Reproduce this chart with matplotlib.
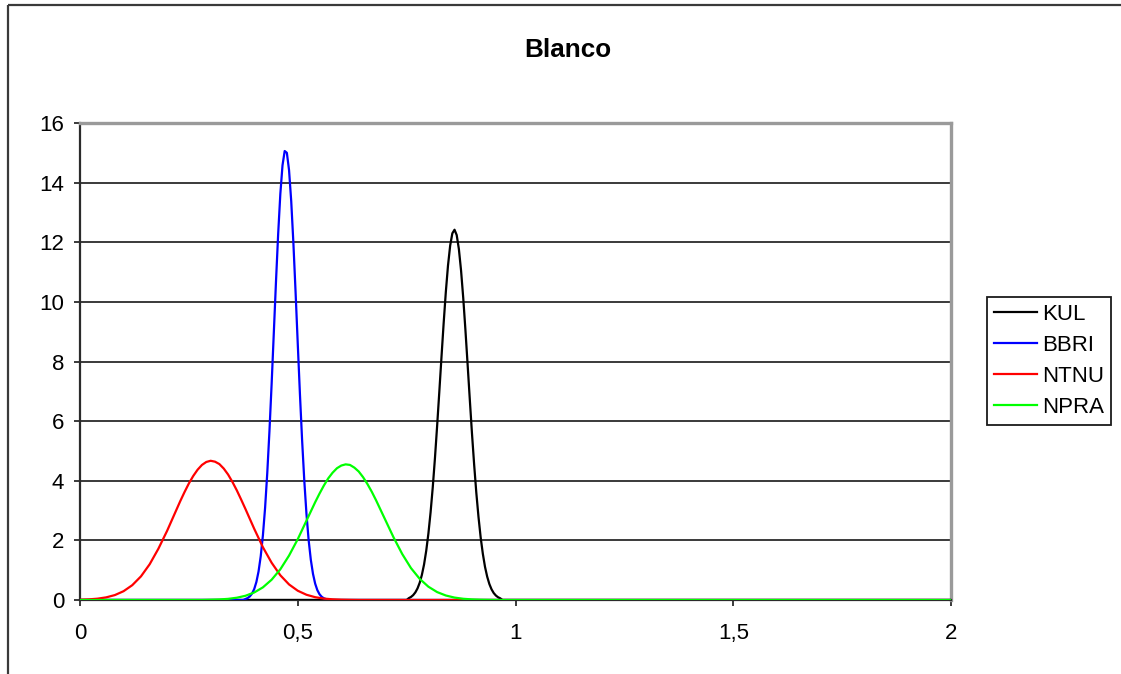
import matplotlib
matplotlib.use("Agg")
import matplotlib.pyplot as plt
from matplotlib.lines import Line2D

plt.rcParams['font.family'] = ['Liberation Sans', 'DejaVu Sans']

# ---- data -------------------------------------------------------------
title = "Blanco"
series_names = ["KUL", "BBRI", "NTNU", "NPRA"]
series_colors = ["#000000", "#0000ff", "#ff0000", "#00ff00"]

kul_x = [0.0, 0.750, 0.755, 0.760, 0.765, 0.770, 0.775, 0.780, 0.785, 0.790, 0.795,
         0.800, 0.805, 0.810, 0.815, 0.820, 0.825, 0.830, 0.835, 0.840, 0.845,
         0.850, 0.855, 0.860, 0.865, 0.870, 0.875, 0.880, 0.885, 0.890, 0.895,
         0.900, 0.905, 0.910, 0.915, 0.920, 0.925, 0.930, 0.935, 0.940, 0.945,
         0.950, 0.955, 0.960, 0.965, 0.970, 2.0]
kul_y = [0.0, 0.0, 0.062, 0.102, 0.163, 0.255, 0.389, 0.578, 0.841, 1.19, 1.65,
         2.23, 2.94, 3.78, 4.75, 5.83, 6.97, 8.14, 9.28, 10.33, 11.22,
         11.89, 12.30, 12.42, 12.24, 11.77, 11.05, 10.13, 9.06, 7.91, 6.74,
         5.60, 4.55, 3.60, 2.79, 2.10, 1.55, 1.11, 0.782, 0.535, 0.358,
         0.233, 0.149, 0.092, 0.056, 0.0, 0.0]

bbri_x = [0.0, 0.375, 0.380, 0.385, 0.390, 0.395, 0.400, 0.405, 0.410, 0.415, 0.420,
          0.425, 0.430, 0.435, 0.440, 0.445, 0.450, 0.455, 0.460, 0.465, 0.470,
          0.475, 0.480, 0.485, 0.490, 0.495, 0.500, 0.505, 0.510, 0.515, 0.520,
          0.525, 0.530, 0.535, 0.540, 0.545, 0.550, 0.555, 0.560, 0.565, 0.570, 2.0]
bbri_y = [0.0, 0.0, 0.035, 0.066, 0.121, 0.215, 0.366, 0.603, 0.959, 1.47, 2.17,
          3.09, 4.26, 5.66, 7.24, 8.95, 10.67, 12.27, 13.62, 14.58, 15.06,
          15.00, 14.42, 13.38, 11.97, 10.33, 8.60, 6.91, 5.36, 4.01, 2.89,
          2.01, 1.35, 0.876, 0.548, 0.330, 0.192, 0.108, 0.058, 0.030, 0.0, 0.0]

ntnu_x = [0.00, 0.02, 0.04, 0.06, 0.08, 0.10, 0.12, 0.14, 0.16, 0.18,
          0.20, 0.21, 0.22, 0.23, 0.24, 0.25, 0.26, 0.27, 0.28, 0.29,
          0.30, 0.31, 0.32, 0.33, 0.34, 0.35, 0.36, 0.37, 0.38, 0.39,
          0.40, 0.42, 0.44, 0.46, 0.48, 0.50, 0.52, 0.54, 0.56, 0.58,
          0.60, 0.62, 0.64, 2.0]
ntnu_y = [0.010, 0.021, 0.044, 0.088, 0.165, 0.295, 0.497, 0.793, 1.20, 1.72,
          2.32, 2.65, 2.98, 3.31, 3.62, 3.91, 4.16, 4.37, 4.53, 4.63,
          4.67, 4.64, 4.56, 4.41, 4.21, 3.96, 3.68, 3.37, 3.05, 2.72,
          2.39, 1.77, 1.25, 0.829, 0.522, 0.311, 0.176, 0.094, 0.047, 0.023,
          0.010, 0.004, 0.0, 0.0]

npra_x = [0.0, 0.28, 0.30, 0.32, 0.34, 0.36, 0.38, 0.40, 0.42, 0.44, 0.46,
          0.48, 0.50, 0.52, 0.53, 0.54, 0.55, 0.56, 0.57, 0.58, 0.59,
          0.60, 0.61, 0.62, 0.63, 0.64, 0.65, 0.66, 0.67, 0.68, 0.69,
          0.70, 0.72, 0.74, 0.76, 0.78, 0.80, 0.82, 0.84, 0.86, 0.88,
          0.90, 0.92, 0.94, 0.96, 2.0]
npra_y = [0.0, 0.0, 0.0085, 0.0185, 0.038, 0.076, 0.142, 0.252, 0.424, 0.680, 1.03,
          1.49, 2.04, 2.66, 2.97, 3.28, 3.57, 3.84, 4.08, 4.27, 4.42,
          4.51, 4.55, 4.53, 4.44, 4.31, 4.12, 3.89, 3.63, 3.34, 3.03,
          2.72, 2.10, 1.54, 1.07, 0.710, 0.446, 0.266, 0.151, 0.081, 0.041,
          0.020, 0.009, 0.004, 0.0, 0.0]

x_ticks = [0, 0.5, 1, 1.5, 2]
x_tick_labels = ["0", "0,5", "1", "1,5", "2"]
y_ticks = [0, 2, 4, 6, 8, 10, 12, 14, 16]

# ---- figure -----------------------------------------------------------
W, H = 1121, 674
fig = plt.figure(figsize=(W / 100, H / 100), dpi=100)

# outer chart frame (top and left edges)
frame_kw = dict(color="#3a3a3a", lw=1.6, solid_capstyle="butt")
fig.add_artist(Line2D([8 / W, 1.0], [1 - 4.5 / H, 1 - 4.5 / H],
                      transform=fig.transFigure, **frame_kw))
fig.add_artist(Line2D([8 / W, 8 / W], [0.0, 1 - 4.5 / H],
                      transform=fig.transFigure, **frame_kw))

ax = fig.add_axes([80 / W, 1 - 600 / H, (951 - 80) / W, (600 - 123) / H])

xs = [kul_x, bbri_x, ntnu_x, npra_x]
ys = [kul_y, bbri_y, ntnu_y, npra_y]
for x, y, name, c in zip(xs, ys, series_names, series_colors):
    ax.plot(x, y, color=c, lw=1.6, label=name, zorder=3,
            solid_joinstyle="round")

ax.set_xlim(0, 2)
ax.set_ylim(0, 16)
ax.set_xticks(x_ticks)
ax.set_xticklabels(x_tick_labels)
ax.set_yticks(y_ticks)

ax.grid(axis="y", color="#2b2b2b", lw=1.3, zorder=1)
ax.set_axisbelow(True)

for side in ("top", "right"):
    ax.spines[side].set_color("#9a9a9a")
    ax.spines[side].set_linewidth(2.4)
for side in ("left", "bottom"):
    ax.spines[side].set_color("#2b2b2b")
    ax.spines[side].set_linewidth(1.6)

ax.tick_params(axis="y", direction="out", length=4.5, width=1.3,
               color="#2b2b2b", labelsize=16, pad=7)
ax.tick_params(axis="x", direction="out", length=4.5, width=1.3,
               color="#2b2b2b", labelsize=16, pad=12)

fig.text(567.5 / W, 1 - 50 / H, title, ha="center", va="center",
         fontsize=18.8, fontweight="bold")

leg = ax.legend(loc="center left", bbox_to_anchor=(987 / W, 1 - 361 / H),
                bbox_transform=fig.transFigure, fontsize=16,
                frameon=True, fancybox=False, shadow=False,
                handlelength=1.95, handletextpad=0.22, labelspacing=0.45,
                borderpad=0.3, borderaxespad=0.0)
leg.get_frame().set_edgecolor("#1a1a1a")
leg.get_frame().set_linewidth(1.3)
leg.get_frame().set_alpha(1.0)

fig.savefig("out.png", dpi=100)
